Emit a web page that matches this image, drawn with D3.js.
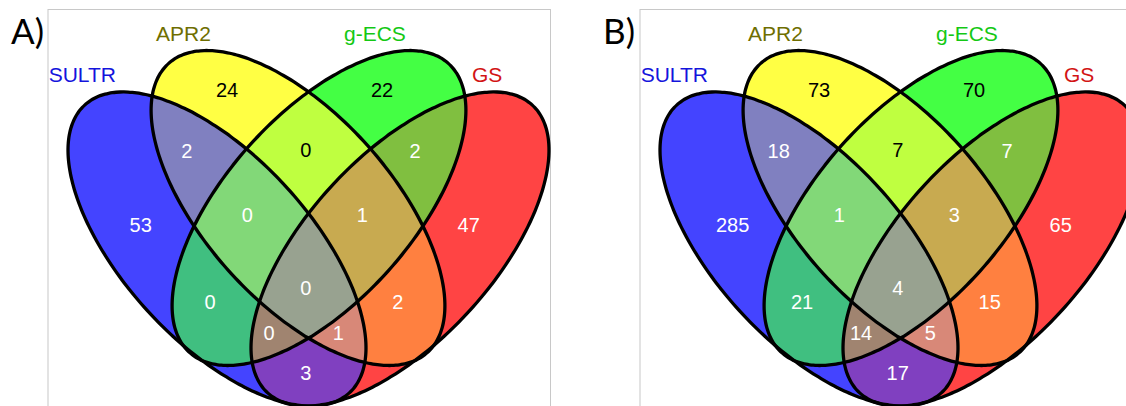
<!DOCTYPE html>
<html>
<head>
<meta charset="utf-8">
<script src="https://cdn.jsdelivr.net/npm/d3@7"></script>
<style>
  html, body { margin: 0; padding: 0; background: #fff; }
  svg { display: block; }
  .set-label { font-family: "Liberation Sans", Arial, sans-serif; font-size: 21px; }
  .count { font-family: "Liberation Sans", Arial, sans-serif; font-size: 20px; }
  .panel-tag { font-family: Lato, "Open Sans", sans-serif; font-size: 35px; }
</style>
</head>
<body>
<svg id="chart" width="1126" height="406"></svg>
<script>
// sets, in drawing order
const setNames = ["SULTR", "APR2", "g-ECS", "GS"];
const setColors = ["#1414dc", "#6e6e00", "#14c814", "#d21414"];

// region membership bits (SULTR, APR2, g-ECS, GS)
const regionKeys = ["1000", "0100", "0010", "0001",
                    "1100", "0110", "0011", "1010", "0101", "1001",
                    "1110", "0111", "1011", "1101", "1111"];
const countsA = [53, 24, 22, 47, 2, 0, 2, 0, 2, 3, 0, 1, 0, 1, 0];
const countsB = [285, 73, 70, 65, 18, 7, 7, 21, 15, 17, 1, 3, 14, 5, 4];
const panelTags = ["A)", "B)"];

// fill colour of each region (same order as regionKeys)
const regionFill = ["#4444ff", "#ffff44", "#44ff44", "#ff4444",
                    "#8080c0", "#bfff40", "#80bf40", "#40bf80", "#ff8040", "#8040c0",
                    "#82d878", "#c8aa50", "#a08470", "#d88878", "#98a290"];
const darkText = ["0100", "0010", "0110"];

// layout, in units of 100px, x relative to the panel's middle
const ellipses = [
    { cx: -0.915, cy: 2.49, a: 1.955, b: 0.93, rot: 47.4 },
    { cx: -0.105, cy: 2.08, a: 1.94, b: 0.935, rot: 48.2 },
    { cx: 0.105, cy: 2.08, a: 1.94, b: 0.935, rot: 131.8 },
    { cx: 0.915, cy: 2.49, a: 1.955, b: 0.93, rot: 132.6 }
];
const labelPos = {
    "1000": [-1.678, 2.25], "0100": [-0.815, 0.90], "0010": [0.735, 0.90], "0001": [1.602, 2.247],
    "1100": [-1.218, 1.507], "0110": [-0.028, 1.493], "0011": [1.065, 1.507],
    "1010": [-0.985, 3.02], "0101": [0.892, 3.02], "1001": [-0.028, 3.727],
    "1110": [-0.612, 2.15], "0111": [0.538, 2.15], "1011": [-0.395, 3.33], "1101": [0.298, 3.33],
    "1111": [-0.028, 2.873]
};
const setLabelPos = [[-2.598, 0.82], [-1.525, 0.41], [0.355, 0.41], [1.635, 0.82]];

const svg = d3.select("#chart");

function ellipsePoints(e) {
    const phi = e.rot * Math.PI / 180;
    return d3.range(0, 360, 2).map(deg => {
        const t = deg * Math.PI / 180;
        return [
            e.cx + e.a * Math.cos(t) * Math.cos(phi) - e.b * Math.sin(t) * Math.sin(phi),
            e.cy + e.a * Math.cos(t) * Math.sin(phi) + e.b * Math.sin(t) * Math.cos(phi)
        ];
    });
}

function drawPanel(idx, middle, counts) {
    const x = d3.scaleLinear().domain([-3, 3]).range([middle - 300, middle + 300]);
    const y = d3.scaleLinear().domain([0, 4.06]).range([0, 406]);
    const line = d3.line().x(d => x(d[0])).y(d => y(d[1])).curve(d3.curveCardinalClosed);

    const g = svg.append("g").attr("class", "panel");

    // frame
    g.append("rect")
        .attr("x", x(-2.61) + 0.5).attr("y", 9.5)
        .attr("width", 502.5).attr("height", 430)
        .attr("fill", "none").attr("stroke", "#c8c8c8").attr("stroke-width", 1);

    const paths = ellipses.map(e => line(ellipsePoints(e)));

    const defs = g.append("defs");
    paths.forEach((p, i) => {
        defs.append("clipPath").attr("id", `clip-${idx}-${i}`)
            .append("path").attr("d", p);
    });

    // paint regions from single sets to all four, each clipped by its members
    const order = regionKeys.map((k, i) => i)
        .sort((a, b) => d3.sum(regionKeys[a], c => +c) - d3.sum(regionKeys[b], c => +c));
    const regionLayer = g.append("g");
    order.forEach(i => {
        const members = regionKeys[i].split("").map((c, j) => c === "1" ? j : -1).filter(j => j >= 0);
        let holder = regionLayer;
        members.slice(1).forEach(j => {
            holder = holder.append("g").attr("clip-path", `url(#clip-${idx}-${j})`);
        });
        holder.append("path").attr("d", paths[members[0]]).attr("fill", regionFill[i]);
    });

    // outlines
    g.append("g").selectAll("path")
        .data(paths)
        .join("path")
        .attr("d", d => d)
        .attr("fill", "none")
        .attr("stroke", "#000")
        .attr("stroke-width", 3.3);

    // counts
    g.append("g").selectAll("text")
        .data(regionKeys)
        .join("text")
        .attr("class", "count")
        .attr("x", k => x(labelPos[k][0]))
        .attr("y", k => y(labelPos[k][1]))
        .attr("dy", "0.36em")
        .attr("text-anchor", "middle")
        .attr("fill", k => darkText.includes(k) ? "#000" : "#fff")
        .text((k, i) => counts[i]);

    // set names
    g.append("g").selectAll("text")
        .data(setNames)
        .join("text")
        .attr("class", "set-label")
        .attr("x", (d, i) => x(setLabelPos[i][0]))
        .attr("y", (d, i) => y(setLabelPos[i][1]))
        .attr("fill", (d, i) => setColors[i])
        .text(d => d);

    g.append("text")
        .attr("class", "panel-tag")
        .attr("x", x(-2.975))
        .attr("y", 44)
        .text(panelTags[idx]);
}

drawPanel(0, 308.5, countsA);
drawPanel(1, 900.5, countsB);
</script>
</body>
</html>
